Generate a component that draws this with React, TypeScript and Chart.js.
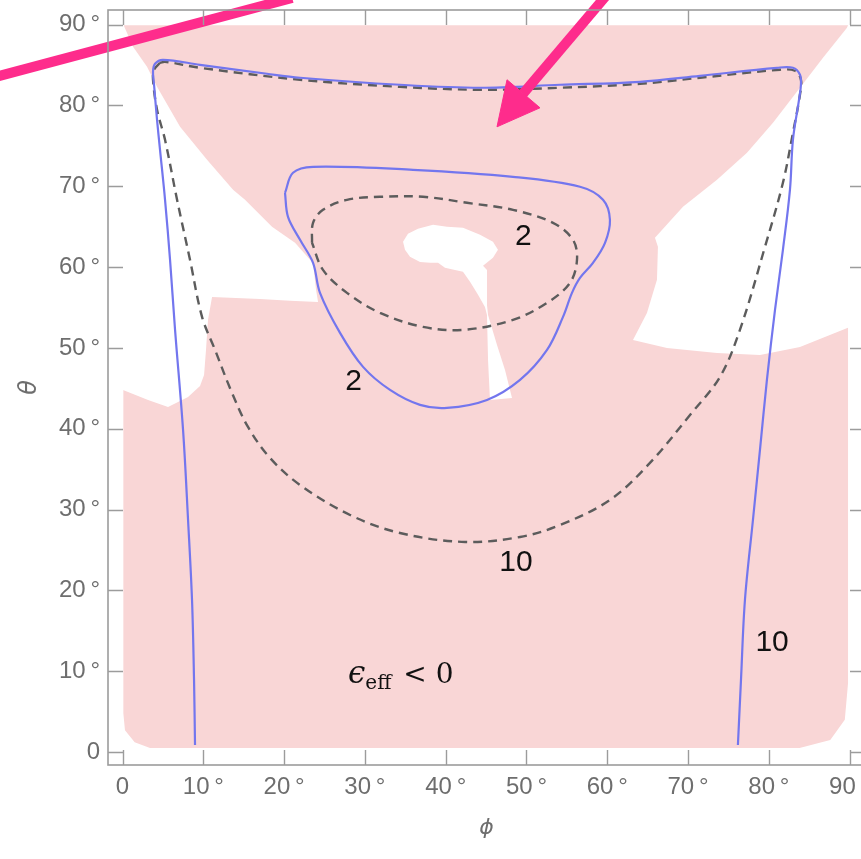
import React, { useEffect, useRef } from 'react';
import { Chart, registerables } from 'chart.js';

Chart.register(...registerables);

// ---------- axes ----------
const xTickValues = [0, 10, 20, 30, 40, 50, 60, 70, 80, 90];
const yTickValues = [0, 10, 20, 30, 40, 50, 60, 70, 80, 90];
const xRange = [-1.8, 91.9];
const yRange = [-1.6, 91.8];
const xTitle = 'ϕ';
const yTitle = 'θ';
const tickLabel = (v: number) => (v === 0 ? '0' : `${v}\u2009°`);

// ---------- region eps_eff < 0  [phi, theta] ----------
const negRegionOuter: [number, number][] = [
  [0.1, 89.9], [89.8, 89.9], [89.8, 8.5], [89.4, 4.0], [87.6, 1.5], [83.8, 0.5],
  [3.4, 0.5], [1.5, 1.2], [0.3, 2.7], [0.1, 4.8], [0.1, 89.9],
];

// holes (eps_eff >= 0)
const holeLeft: [number, number][] = [
  [-0.5, 91], [0.0, 91], [0.1, 90.0], [1.3, 87.25], [3.03, 84.78], [4.27, 82.3], [7.12, 77.35],
  [10.46, 73.27], [13.68, 69.55], [15.16, 68.32], [18.5, 64.98], [21.35, 63.0], [23.21, 60.89],
  [23.58, 60.52], [23.95, 57.18], [24.2, 55.69], [20.73, 55.82], [17.02, 56.06], [11.08, 56.31],
  [10.58, 53.47], [10.33, 49.75], [10.09, 46.66], [9.59, 45.3], [8.11, 43.94], [5.63, 42.7],
  [3.16, 43.56], [0.06, 44.8], [-0.5, 44.8], [-0.5, 91],
];

const holeRight: [number, number][] = [
  [91, 91], [89.9, 91], [89.8, 89.9], [89.67, 89.6], [86.7, 85.89], [83.85, 82.18], [80.51, 77.85],
  [77.29, 74.13], [73.58, 70.79], [69.37, 67.45], [65.9, 63.61], [66.27, 62.5], [66.15, 58.42],
  [64.91, 54.33], [63.18, 50.99], [67.39, 50.0], [73.58, 49.38], [78.9, 49.13], [83.85, 50.12],
  [89.79, 52.48], [91, 52.48], [91, 91],
];

const holeCenter: [number, number][] = [
  [34.72, 63.12], [35.33, 64.11], [36.57, 64.73], [38.43, 65.22], [40.16, 64.98], [42.14, 64.85],
  [44.25, 63.99], [45.85, 63.12], [46.47, 62.13], [45.85, 61.14], [44.62, 60.15], [45.11, 59.65],
  [45.11, 55.32], [45.24, 54.08], [46.35, 50.37], [47.34, 47.28], [48.21, 43.81], [45.48, 43.56],
  [45.24, 48.51], [45.11, 54.08], [44.86, 55.07], [44.0, 56.56], [43.01, 58.17], [42.14, 59.41],
  [41.15, 59.65], [39.91, 59.9], [39.05, 60.52], [38.06, 60.52], [36.82, 60.64], [35.58, 61.26],
  [34.96, 62.13], [34.72, 63.12],
];

// ---------- contours [phi, theta] ----------
const solid10: [number, number][] = [
  [8.97, 0.87], [8.85, 8.91], [8.6, 18.81], [8.11, 28.71], [7.49, 39.85], [6.5, 52.23], [5.88, 60.89],
  [5.26, 68.32], [4.64, 74.5], [4.27, 78.22], [3.9, 82.55], [3.77, 84.16], [4.02, 85.15], [5.01, 85.64],
  [9.59, 85.02], [17.88, 83.91], [21.97, 83.42], [34.34, 82.55], [44.25, 82.18], [54.15, 82.55],
  [64.05, 82.92], [71.47, 83.66], [81.0, 84.65], [82.98, 84.65], [83.85, 83.79], [83.97, 82.55],
  [83.73, 80.69], [82.98, 75.74], [82.61, 69.55], [81.74, 62.13], [80.76, 54.7], [79.76, 46.04],
  [78.9, 37.38], [78.03, 28.71], [77.04, 18.81], [76.55, 8.91], [76.17, 0.87],
];

const dashed10: [number, number][] = [
  [4.64, 85.27], [3.9, 84.41], [3.77, 83.17], [4.27, 79.46], [5.26, 75.74], [6.75, 68.32], [8.35, 60.89],
  [9.84, 53.84], [11.45, 49.75], [13.55, 44.43], [15.53, 40.22], [18.25, 36.39], [21.97, 33.04],
  [28.16, 29.33], [34.34, 27.1], [42.39, 25.99], [49.2, 26.61], [54.15, 28.09], [60.33, 31.19],
  [65.28, 35.77], [70.24, 41.71], [73.95, 46.41], [76.42, 52.23], [79.52, 62.5], [81.74, 70.42],
  [82.98, 76.61], [83.85, 81.31], [83.97, 83.17], [83.23, 84.28], [81.37, 84.41], [71.47, 83.42],
  [64.05, 82.67], [54.15, 82.18], [44.25, 81.93], [34.34, 82.3], [21.97, 83.17], [9.59, 84.65],
  [5.26, 85.4], [4.64, 85.27],
];

const solid2: [number, number][] = [
  [20.11, 69.18], [21.1, 71.66], [23.58, 72.4], [35.95, 72.03], [48.33, 71.16], [56.62, 69.93],
  [59.47, 68.32], [60.33, 65.84], [59.72, 63.0], [58.23, 60.52], [56.62, 58.66], [55.63, 56.81],
  [54.52, 53.84], [52.54, 49.75], [49.2, 46.04], [45.11, 43.56], [40.16, 42.57], [36.82, 42.95],
  [33.11, 44.8], [29.77, 47.65], [26.92, 51.86], [24.44, 56.81], [23.58, 60.52], [21.97, 63.37],
  [20.48, 66.21], [20.11, 69.18],
];

const dashed2: [number, number][] = [
  [23.45, 63.0], [23.58, 65.47], [24.81, 67.08], [27.78, 68.32], [31.87, 68.69], [37.19, 68.69],
  [42.64, 67.95], [48.33, 67.08], [53.28, 65.47], [55.75, 63.37], [56.25, 60.89], [55.38, 58.04],
  [52.54, 55.57], [48.33, 53.47], [42.14, 52.23], [37.19, 52.6], [31.87, 54.33], [27.78, 56.81],
  [24.81, 59.65], [23.45, 63.0],
];

// ---------- annotations ----------
const contourLabels = [
  { text: '2', phi: 49.6, theta: 63.7 },
  { text: '2', phi: 28.6, theta: 45.85 },
  { text: '10', phi: 48.7, theta: 23.4 },
  { text: '10', phi: 80.4, theta: 13.5 },
];
const regionLabelAnchor: [number, number] = [27.9, 8.54];

// arrows (drawn over the plot)
const arrowLineA: [number, number][] = [[-15.8, 83.5], [21.0, 93.3]];
const arrowLineB: [number, number][] = [[59.96, 93.69], [49.57, 81.44]];
const arrowHeadB: [number, number][] = [[46.35, 77.35], [47.59, 83.17], [51.67, 79.7], [46.35, 77.35]];

const PINK = '#f9d6d6';
const BLUE = '#7376ee';
const DASH = '#5c5c5c';
const MAGENTA = '#fe2c8c';
const AXIS_TEXT = '#6e6e6e';
const FRAME = '#9c9c9c';

const pts = (a: [number, number][]) => a.map(([x, y]) => ({ x, y }));

const framePlugin = {
  id: 'mmaFrame',
  afterDraw(chart: any) {
    const { ctx, chartArea: a, scales } = chart;
    const xs = scales.x;
    const ys = scales.y;
    ctx.save();
    ctx.strokeStyle = FRAME;
    ctx.lineWidth = 1.6;
    ctx.strokeRect(a.left, a.top, a.right - a.left, a.bottom - a.top);
    ctx.beginPath();
    const L = 15;
    for (const v of xTickValues) {
      const p = Math.round(xs.getPixelForValue(v)) + 0.5;
      ctx.moveTo(p, a.bottom);
      ctx.lineTo(p, a.bottom - L);
      ctx.moveTo(p, a.top);
      ctx.lineTo(p, a.top + L);
    }
    for (const v of yTickValues) {
      const p = Math.round(ys.getPixelForValue(v)) + 0.5;
      ctx.moveTo(a.left, p);
      ctx.lineTo(a.left + L, p);
      ctx.moveTo(a.right, p);
      ctx.lineTo(a.right - L, p);
    }
    ctx.lineWidth = 1.4;
    ctx.stroke();
    ctx.restore();
  },
};

const labelPlugin = {
  id: 'contourLabels',
  afterDatasetsDraw(chart: any) {
    const { ctx, scales } = chart;
    const xs = scales.x;
    const ys = scales.y;
    ctx.save();
    ctx.fillStyle = '#111111';
    ctx.font = '30px "Liberation Sans", Arial, sans-serif';
    ctx.textAlign = 'center';
    ctx.textBaseline = 'middle';
    for (const l of contourLabels) {
      ctx.fillText(l.text, xs.getPixelForValue(l.phi), ys.getPixelForValue(l.theta));
    }
    let px = xs.getPixelForValue(regionLabelAnchor[0]);
    const py = ys.getPixelForValue(regionLabelAnchor[1]);
    ctx.textAlign = 'left';
    ctx.textBaseline = 'alphabetic';
    ctx.font = 'italic 31px "DejaVu Serif", serif';
    ctx.fillText('ϵ', px, py);
    px += ctx.measureText('ϵ').width;
    ctx.font = '20px "DejaVu Serif", serif';
    ctx.fillText('eff', px, py + 6);
    px += ctx.measureText('eff').width + 12;
    ctx.font = '28px "DejaVu Serif", serif';
    ctx.fillText('< 0', px, py);
    ctx.restore();
  },
};

export default function App() {
  const ref = useRef<HTMLCanvasElement | null>(null);

  useEffect(() => {
    if (!ref.current) return;
    const fillSet = (data: [number, number][], color: string, order: number) => ({
      data: pts(data),
      fill: 'shape',
      backgroundColor: color,
      borderColor: 'rgba(0,0,0,0)',
      borderWidth: 1,
      pointRadius: 0,
      tension: 0,
      order,
    });
    const lineSet = (data: [number, number][], color: string, dash: number[], width: number, order: number) => ({
      data: pts(data),
      fill: false,
      borderColor: color,
      borderWidth: width,
      borderDash: dash,
      pointRadius: 0,
      tension: 0.35,
      order,
    });
    const datasets: any[] = [
      fillSet(negRegionOuter, PINK, 20),
      fillSet(holeLeft, '#ffffff', 19),
      fillSet(holeRight, '#ffffff', 18),
      fillSet(holeCenter, '#ffffff', 17),
      lineSet(dashed10, DASH, [9, 6], 2.4, 6),
      lineSet(dashed2, DASH, [9, 6], 2.4, 5),
      lineSet(solid10, BLUE, [], 2.2, 4),
      lineSet(solid2, BLUE, [], 2.2, 3),
      {
        data: pts(arrowLineA), borderColor: MAGENTA, borderWidth: 10, pointRadius: 0,
        fill: false, clip: false, order: 1, borderCapStyle: 'butt',
      },
      {
        data: pts(arrowLineB), borderColor: MAGENTA, borderWidth: 10, pointRadius: 0,
        fill: false, clip: false, order: 1, borderCapStyle: 'butt',
      },
      {
        data: pts(arrowHeadB), borderColor: MAGENTA, backgroundColor: MAGENTA, borderWidth: 1,
        pointRadius: 0, fill: 'shape', clip: false, order: 0, tension: 0,
      },
    ];

    const tickFont = { family: '"Liberation Sans", Arial, sans-serif', size: 24 };
    const chart = new Chart(ref.current, {
      type: 'line',
      data: { datasets },
      options: {
        responsive: false,
        animation: false,
        events: [],
        layout: { padding: { left: 0, top: 10, right: 15, bottom: 0 } },
        plugins: { legend: { display: false }, tooltip: { enabled: false } },
        scales: {
          x: {
            type: 'linear',
            min: xRange[0],
            max: xRange[1],
            afterBuildTicks: (s: any) => { s.ticks = xTickValues.map((v) => ({ value: v })); },
            afterFit: (s: any) => { s.height = 94; s.paddingLeft = 0; s.paddingRight = 0; },
            grid: { display: false, drawTicks: false },
            border: { display: false },
            ticks: {
              callback: (v: any) => tickLabel(Number(v)),
              color: AXIS_TEXT,
              font: tickFont,
              padding: 8,
              autoSkip: false,
              maxRotation: 0,
            },
            title: {
              display: true,
              text: xTitle,
              color: AXIS_TEXT,
              font: { family: '"DejaVu Sans", sans-serif', size: 22, style: 'italic' },
              padding: { top: 0, bottom: 18 },
            },
          },
          y: {
            type: 'linear',
            min: yRange[0],
            max: yRange[1],
            afterBuildTicks: (s: any) => { s.ticks = yTickValues.map((v) => ({ value: v })); },
            afterFit: (s: any) => { s.width = 108; s.paddingTop = 0; s.paddingBottom = 0; },
            grid: { display: false, drawTicks: false },
            border: { display: false },
            ticks: {
              callback: (v: any) => tickLabel(Number(v)),
              color: AXIS_TEXT,
              font: tickFont,
              padding: 8,
              autoSkip: false,
            },
            title: {
              display: true,
              text: yTitle,
              color: AXIS_TEXT,
              font: { family: '"DejaVu Sans", sans-serif', size: 24, style: 'italic' },
              padding: { top: 15, bottom: 0 },
            },
          },
        },
      } as any,
      plugins: [labelPlugin, framePlugin],
    } as any);
    return () => chart.destroy();
  }, []);

  return (
    <div style={{ position: 'fixed', left: 0, top: 0, width: 861, height: 859, overflow: 'hidden', background: '#ffffff' }}>
      <canvas ref={ref} width={880} height={859} style={{ display: 'block', width: 880, height: 859 }} />
    </div>
  );
}
